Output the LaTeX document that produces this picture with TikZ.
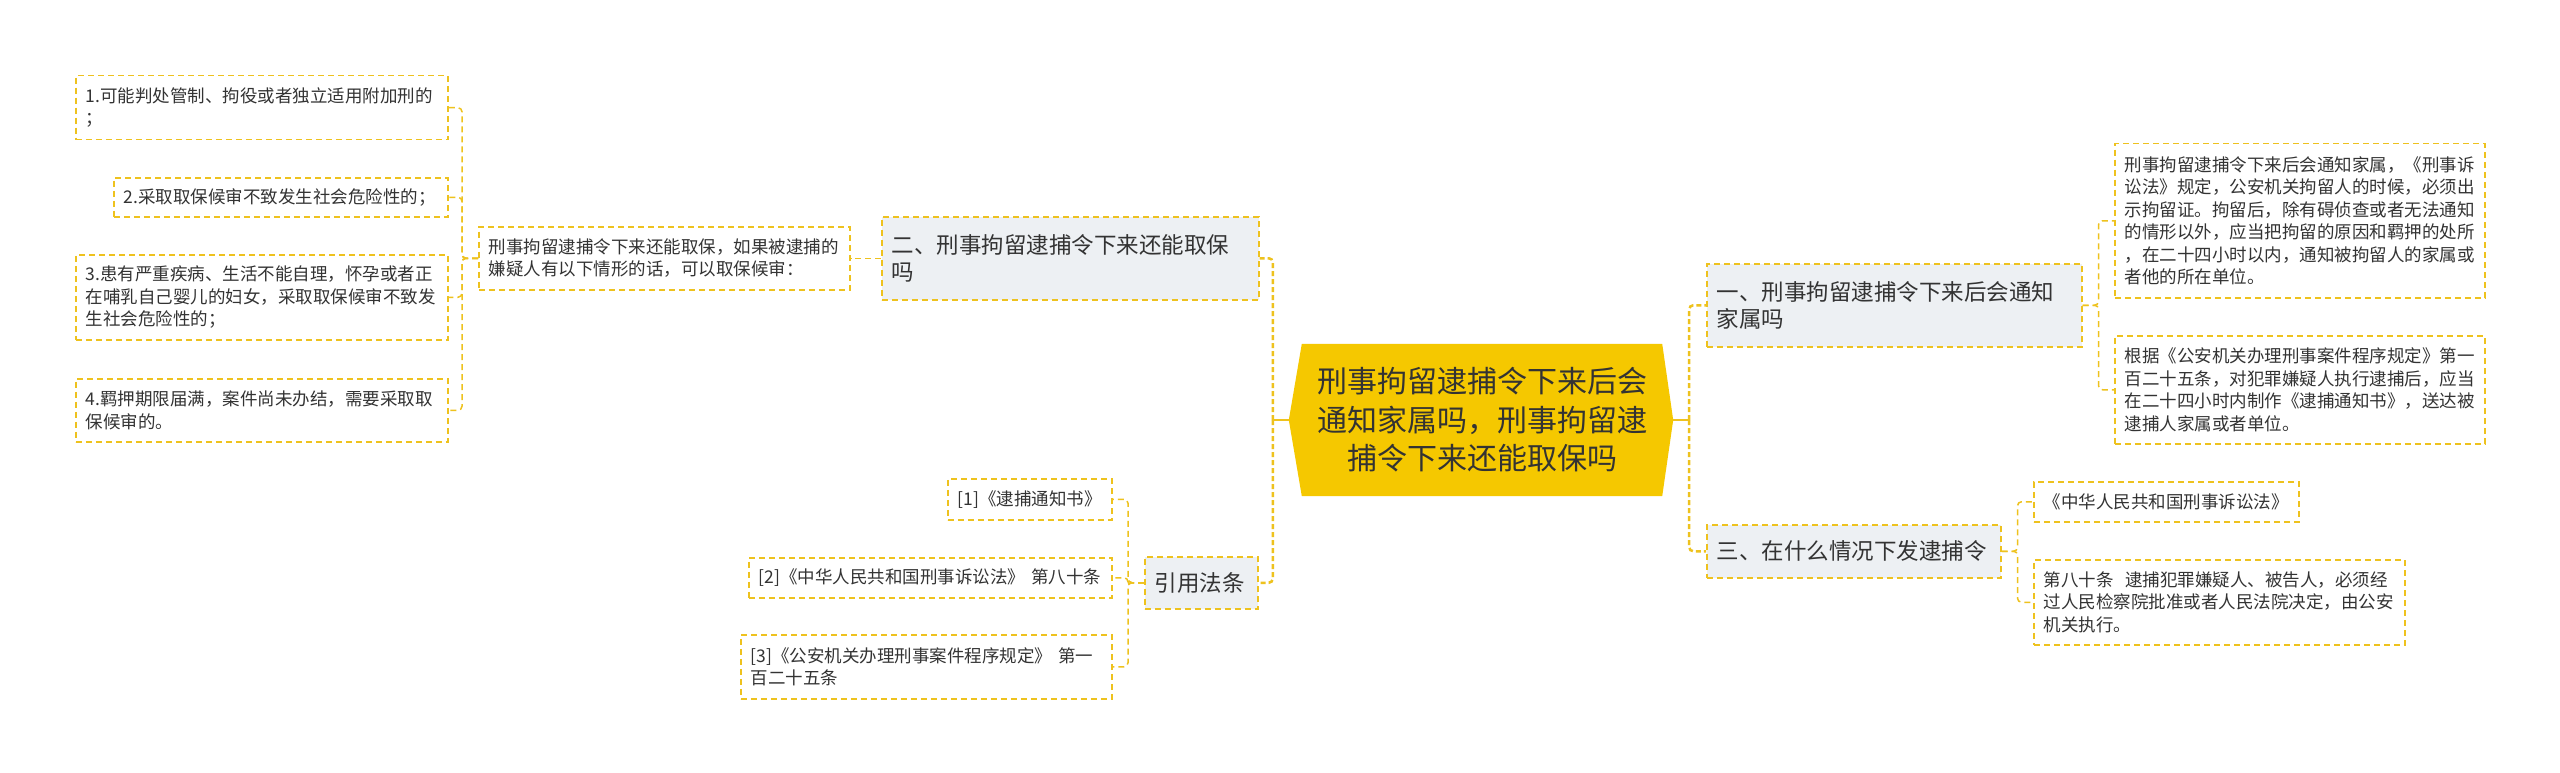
\documentclass[tikz,border=0pt]{standalone}
\usepackage{fontspec}
\setmainfont{Noto Sans CJK SC}
\usetikzlibrary{backgrounds}
\definecolor{yel}{HTML}{EEC21E}
\definecolor{cen}{HTML}{F5C800}
\definecolor{lv}{HTML}{EDF0F3}
\definecolor{tx}{HTML}{333333}
\tikzset{
  box/.style={draw=yel, line width=1.5pt, dash pattern=on 6pt off 4pt, anchor=north west, inner xsep=10pt, inner ysep=2pt, align=left, text=tx},
  leaf/.style={box, font=\fontsize{17.5}{22.5}\selectfont},
  lvone/.style={box, fill=lv, font=\fontsize{22.5}{27}\selectfont},
  conn/.style={draw=yel, line width=1.5pt, dash pattern=on 6pt off 4pt, rounded corners=4pt},
  trunk/.style={draw=yel, line width=2.5pt, dash pattern=on 5pt off 3pt, rounded corners=4pt},
  stub/.style={draw=yel, line width=2.5pt},
}
\begin{document}
\begin{tikzpicture}[x=1pt,y=-1pt]
\useasboundingbox (0,0) rectangle (2560,773);
% central
\node[text=tx, align=center, font=\fontsize{30}{38.5}\selectfont, minimum width=360pt, minimum height=152pt, inner sep=0pt] (c) at (1482,420) {刑事拘留逮捕令下来后会\\通知家属吗，刑事拘留逮\\捕令下来还能取保吗};
\coordinate (cL) at ([xshift=-13pt]c.west);
\coordinate (cR) at ([xshift=11pt]c.east);
\begin{scope}[on background layer]
\fill[white] (0,0) rectangle (2560,773);
\fill[cen] (c.north west) -- (c.north east) -- (cR) -- (c.south east) -- (c.south west) -- (cL) -- cycle;
\end{scope}
% left level one
\node[lvone, minimum width=377pt, minimum height=83pt, text width=357pt] (er) at (881,216) {二、刑事拘留逮捕令下来还能取保\\吗};
\node[lvone, minimum width=113pt, minimum height=52pt, text width=93pt] (yy) at (1144,556) {引用法条};
% A
\node[leaf, minimum width=371pt, minimum height=63pt, text width=351pt] (A) at (478,226) {刑事拘留逮捕令下来还能取保，如果被逮捕的\\嫌疑人有以下情形的话，可以取保候审：};
\node[leaf, minimum width=372pt, minimum height=64pt, text width=352pt] (b1) at (75,75) {1.可能判处管制、拘役或者独立适用附加刑的\\；};
\node[leaf, minimum width=334pt, minimum height=39pt, text width=314pt] (b2) at (113,177) {2.采取取保候审不致发生社会危险性的；};
\node[leaf, minimum width=372pt, minimum height=85pt, text width=352pt] (b3) at (75,254) {3.患有严重疾病、生活不能自理，怀孕或者正\\在哺乳自己婴儿的妇女，采取取保候审不致发\\生社会危险性的；};
\node[leaf, minimum width=372pt, minimum height=63pt, text width=352pt] (b4) at (75,378) {4.羁押期限届满，案件尚未办结，需要采取取\\保候审的。};
% references
\node[leaf, minimum width=164pt, minimum height=41pt, text width=144pt] (c1) at (947,478) {[1]《逮捕通知书》};
\node[leaf, minimum width=363pt, minimum height=40pt, text width=343pt] (c2) at (748,557) {[2]《中华人民共和国刑事诉讼法》 第八十条};
\node[leaf, minimum width=371pt, minimum height=64pt, text width=351pt] (c3) at (740,634) {[3]《公安机关办理刑事案件程序规定》 第一\\百二十五条};
% right level one
\node[lvone, minimum width=375pt, minimum height=83pt, text width=355pt] (y1) at (1706,263) {一、刑事拘留逮捕令下来后会通知\\家属吗};
\node[lvone, minimum width=294pt, minimum height=53pt, text width=274pt] (y3) at (1706,524) {三、在什么情况下发逮捕令};
\node[leaf, minimum width=370pt, minimum height=154pt, text width=350pt] (r1) at (2114,143) {刑事拘留逮捕令下来后会通知家属，《刑事诉\\讼法》规定，公安机关拘留人的时候，必须出\\示拘留证。拘留后，除有碍侦查或者无法通知\\的情形以外，应当把拘留的原因和羁押的处所\\，在二十四小时以内，通知被拘留人的家属或\\者他的所在单位。};
\node[leaf, minimum width=370pt, minimum height=108pt, text width=350pt] (r2) at (2114,335) {根据《公安机关办理刑事案件程序规定》第一\\百二十五条，对犯罪嫌疑人执行逮捕后，应当\\在二十四小时内制作《逮捕通知书》，送达被\\逮捕人家属或者单位。};
\node[leaf, minimum width=265pt, minimum height=40pt, text width=245pt] (r3) at (2033,481) {《中华人民共和国刑事诉讼法》};
\node[leaf, minimum width=371pt, minimum height=85pt, text width=351pt] (r4) at (2033,559) {第八十条\ \ 逮捕犯罪嫌疑人、被告人，必须经\\过人民检察院批准或者人民法院决定，由公安\\机关执行。};
% connectors
\coordinate (tL) at ([xshift=-16pt]cL);
\coordinate (tR) at ([xshift=16pt]cR);
\draw[stub] (cL) -- (tL);
\draw[stub] (cR) -- (tR);
\draw[trunk] (tL) |- (er.east);
\draw[trunk] (tL) |- (yy.east);
\draw[trunk] (tR) |- (y1.west);
\draw[trunk] (tR) |- (y3.west);
\draw[conn] (er.west) -- (A.east);
\foreach \n in {b1,b2,b3,b4} \draw[conn] (A.west) -- ++(-16,0) |- (\n.east);
\foreach \n in {c1,c2,c3} \draw[conn] (yy.west) -- ++(-16,0) |- (\n.east);
\foreach \n in {r1,r2} \draw[conn] (y1.east) -- ++(16,0) |- (\n.west);
\foreach \n in {r3,r4} \draw[conn] (y3.east) -- ++(16,0) |- (\n.west);
\end{tikzpicture}
\end{document}
